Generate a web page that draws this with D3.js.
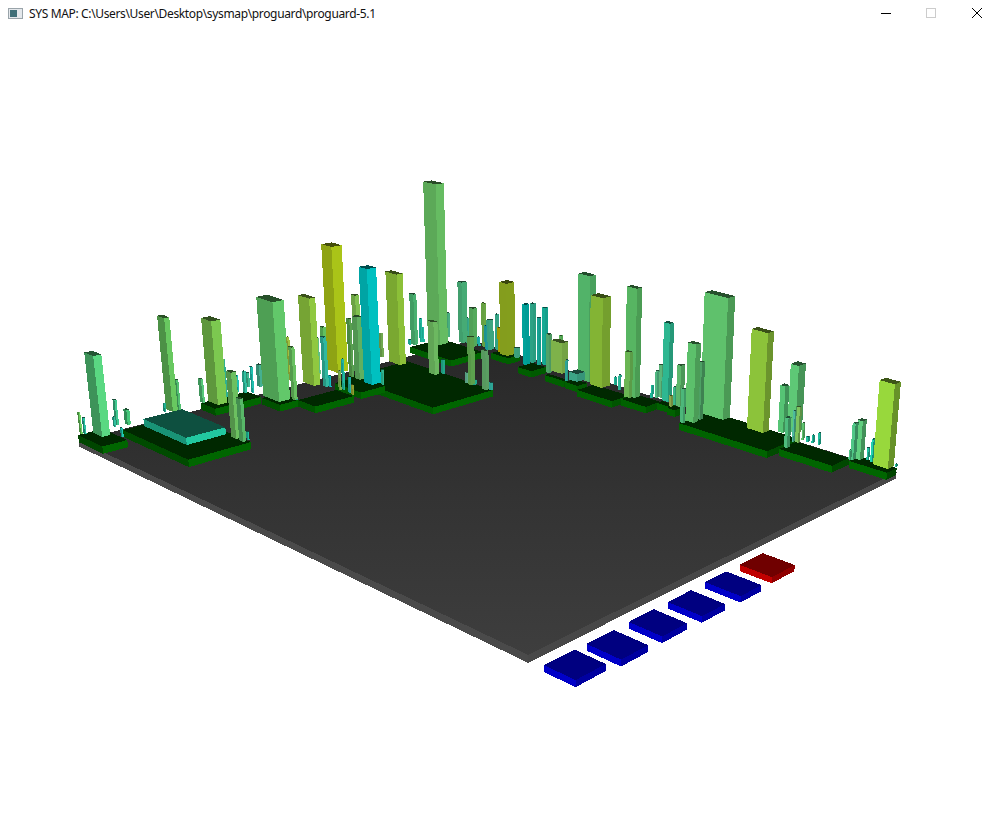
<!DOCTYPE html>
<html><head><meta charset="utf-8"><title>SYS MAP</title><script src="https://cdn.jsdelivr.net/npm/d3@7"></script>
<style>html,body{margin:0;background:#fff;overflow:hidden}svg{display:block}</style></head><body><svg id="c" width="997" height="827"></svg>
<script>
// Ground-plane coordinates of each tower's front corner, footprint and height, in map units
const towerU=[33,-1,3,-1,11,54,5,4,2,-5,23,-3,-4,181,200,197,152,-10,9,0,-13,-24,78,87,-8,89,48,66,-14,1,16,-38,74,51,111,53,124,
-8,96,100,120,132,71,-27,-35,-32,-34,5,142,148,-26,24,58,230,234,216,269,275,73,94,103,31,89,60,145,116,167,210,210,
235,227,275,295,153,331,347,362,402,481,474,407,432,502,536,513,508,568,555,557,638,626,636,664,752,790,776,823,814,
822,820,831,840,853,940,932,928,949,959,994,999];
const towerV=[26,7,12,80,94,52,71,196,211,185,283,269,323,196,196,209,113,411,377,366,359,393,382,412,484,414,496,510,581,548,588,
694,592,593,589,724,606,733,519,525,522,518,516,850,877,880,842,893,733,751,952,944,940,743,749,746,743,751,960,952,
965,953,946,956,949,957,955,932,955,964,954,928,945,1118,916,928,947,937,939,930,974,956,966,971,981,974,965,967,951,
907,891,932,967,964,1013,994,929,966,969,990,988,991,990,979,969,965,991,987,978,999];
const towerDU=[26.2,4.5,4.4,5.9,8.8,4.3,4.4,20.5,5.8,4.4,28.9,8.8,5.8,13.4,10.6,4,120,8.8,4.3,5.8,4.4,5.9,44.9,8.4,5.8,4.2,31.3,
8.5,8.8,5.8,28.8,11.8,14.1,8.5,22.1,31.3,4.1,5.8,4.2,4.2,4.1,4.1,4.2,11.8,4.4,4.4,4.4,35,16.4,5.5,4.4,11.6,11.4,7.9,
5.3,4,10.4,5.2,8.5,8.5,5.6,4.3,4.2,4.3,19.3,4.2,8.2,8,8.1,8,5.3,7.8,28.5,5.5,3.8,20.2,27.7,29.7,23.9,12,3.7,3.7,3.6,
14,7.1,4.7,9.2,4.6,4.6,17.8,6.7,4.5,50.7,33.9,16.7,10.5,6.1,3.1,6.1,3.1,4.1,3.1,3,9.7,5.8,2.9,2.9,3.8,28.3,2.8];
const towerDV=[16.1,3,3,4.2,6.3,3.1,3.1,11,4.5,3.3,20.8,4.6,4.7,11,6.6,3.3,84,7.4,3.6,4.8,3.6,4.9,26.7,7.4,5.1,3.7,15.4,7.8,8,7.9,
26.9,11.3,13.5,5.4,24.2,17.2,4.1,5.8,3.9,3.9,3.9,3.9,3.9,9.1,4.6,4.6,4.5,24.8,11.6,5.8,6.3,15.8,12.7,11.7,5.8,4.4,8.8,
5.9,6.4,12.8,6.4,4.8,4.8,4.8,25.5,4.8,9.6,12.7,9.6,9.7,6.4,9.6,19.3,6.9,4.8,25.7,19.4,25.9,16.3,9.7,4.9,4.9,5,13.4,
6.7,6.7,13.4,6.7,6.6,16.4,6.5,10,23.8,20.7,24.9,14,10.3,5.2,7,5.3,7.1,5.3,5.3,14.5,10.8,5.4,5.5,7.3,22,5.6];
const towerH=[89,24,18,28,17,10,11,108,35,10,98,28,45,74,48,9,8,27,32,26,20,17,118,63,53,16,107,61,54,46,157,80,78,73,142,116,19,
31,24,38,19,12,14,68,32,20,7,212,67,18,33,82,52,60,6,13,49,9,59,40,48,34,33,12,96,33,13,79,78,75,62,50,40,10,27,10,
134,113,135,57,10,19,16,97,41,34,51,22,14,94,41,70,146,118,80,56,35,37,42,20,6,9,14,45,42,11,14,26,96,3];
const towerColor=['#5ad882','#6dd060','#2ac0a0','#3fc890','#45c77a','#20c8b0','#30c0a0','#68c860','#50c070','#20b090','#7cc850','#55c878','#30b090','#6cc060','#58b868','#20c0a0','#22c8a0',
'#45b090','#20c0b0','#30c0a0','#20c0b0','#3cb890','#62c86a','#68c060','#a0c040','#20a890','#90c840','#30b8a0','#60c060','#60c080','#aac418','#80c050','#60b060','#58a050',
'#00c0c0','#8cc038','#30b890','#70a850','#7cb050','#20b8a0','#20b0a8','#90a030','#10c0c0','#48b070','#20b8a0','#20b8a0','#20b8a0','#66bc62','#6cb860','#20a888','#48b080',
'#48b078','#58b060','#60a850','#20b090','#60b090','#60a868','#30b0a0','#70b048','#40b088','#38b090','#38b090','#20a0a0','#20b8b0','#90ac20','#b0a800','#40b088',
'#00b0a8','#30b090','#18b8a0','#18b0a0','#58b070','#88c050','#60c060','#30b0a0','#40b090','#58c070','#8cc038','#5cc068','#70c058','#20c0a0','#30c0a0','#20c0a0',
'#30c098','#60c080','#55c088','#60c070','#40c090','#90b050','#60c870','#50c080','#50a868','#62c870','#90c83c','#60cc78','#58c878','#50c080','#50c0a0','#80c860','#60c870',
'#20c0a0','#20c0a0','#20c0a0','#60d080','#50c888','#50c888','#20c0a0','#20d0b0','#98d83c','#20c0a0'];
// Green district plates
const plateU0=[0,26,-5,41,91,45,59,-23,110,209,278,332,379,468,526,556,621,817,930];
const plateU1=[71,208,36,91,138,277,131,95,157,245,328,364,465,526,555,574,809,922,1002];
const plateV0=[0,73,266,372,417,585,540,831,938,908,911,908,887,912,949,940,885,913,959];
const plateV1=[50,206,374,417,515,754,605,929,977,955,923,939,941,960,967,963,990,973,995];
// Legend pads beside the map
const padU0=[1042,1043,1042,1042,1040,1041];
const padU1=[1092,1098,1096,1098,1099,1095];
const padV0=[-19,66,158,248,342,431];
const padV1=[42,124,215,304,396,494];
const padKind=['blue','blue','blue','blue','blue','red'];
const padFaces={blue:['#0000c8','#0000a0','#000080'],red:['#c00000','#900000','#700000']};
const titleText='SYS MAP: C:\\Users\\User\\Desktop\\sysmap\\proguard\\proguard-5.1';

const uScale=d3.scaleLinear().domain([0,1000]).range([0,1]);
const vScale=d3.scaleLinear().domain([0,1000]).range([0,1]);
const heightScale=d3.scaleLinear().domain([0,100]).range([0,98.5]);
// Projective camera: four map corners to the screen, verticals converging on a point far below
const A=[78,435],B=[528,648],C=[897,467],D=[472,336],VP=[554,4500];
const dx1=B[0]-C[0],dy1=B[1]-C[1],dx2=D[0]-C[0],dy2=D[1]-C[1],sx=A[0]-B[0]+C[0]-D[0],sy=A[1]-B[1]+C[1]-D[1],den=dx1*dy2-dx2*dy1;
const g=(sx*dy2-dx2*sy)/den,h=(dx1*sy-sx*dy1)/den,a=B[0]-A[0]+g*B[0],b=D[0]-A[0]+h*D[0],c=A[0],d=B[1]-A[1]+g*B[1],e=D[1]-A[1]+h*D[1],f=A[1];
function project(mu,mv,z){const u=uScale(mu),v=vScale(mv),X=a*u+b*v+c-z*VP[0]/VP[1],Y=d*u+e*v+f-z,W=g*u+h*v+1-z/VP[1];return[X/W,Y/W]}
const leftShade=d3.scaleLinear().domain([100,440,880]).range([.68,.9,1]);
const rightShade=d3.scaleLinear().domain([100,440,560,880]).range([1,1,.85,.68]);
const shade=(hex,k)=>{const c0=d3.rgb(hex);return d3.rgb(c0.r*k,c0.g*k,c0.b*k)+''};

const svg=d3.select('#c');
const grad=svg.append('defs').append('linearGradient').attr('id','gr').attr('x1',0).attr('x2',0).attr('y1',0).attr('y2',1);
grad.append('stop').attr('offset',0).attr('stop-color','#282828');grad.append('stop').attr('offset',1).attr('stop-color','#3e3e3e');
const path=d3.line();
const face=(pts,fill)=>svg.append('path').attr('d',path(pts)+'Z').attr('fill',fill).attr('shape-rendering','crispEdges');
function box(u0,u1,v0,v1,z0,z1,cl,cr,ct){
 face([project(u0,v0,z0),project(u1,v0,z0),project(u1,v0,z1),project(u0,v0,z1)],cl);
 face([project(u1,v0,z0),project(u1,v1,z0),project(u1,v1,z1),project(u1,v0,z1)],cr);
 face([project(u0,v0,z1),project(u1,v0,z1),project(u1,v1,z1),project(u0,v1,z1)],ct);
}
box(0,1000,0,1000,-13,-6,'#4a4a4a','#484848','url(#gr)');
plateU0.forEach((_,i)=>{const x=project(plateU1[i],plateV0[i],0)[0];box(plateU0[i],plateU1[i],plateV0[i],plateV1[i],-8,0,shade('#006600',leftShade(x)),shade('#006600',rightShade(x)),'#002800')});
padU0.forEach((_,i)=>{const k=padFaces[padKind[i]];box(padU0[i],padU1[i],padV0[i],padV1[i],-6,0,k[0],k[1],k[2])});
const order=d3.range(towerU.length).sort((p,q)=>(g*uScale(towerU[q])+h*vScale(towerV[q]))-(g*uScale(towerU[p])+h*vScale(towerV[p])));
order.forEach(i=>{
 const x=project(towerU[i],towerV[i],0)[0];
 box(towerU[i]-towerDU[i],towerU[i],towerV[i],towerV[i]+towerDV[i],0,heightScale(towerH[i]),shade(towerColor[i],leftShade(x)),shade(towerColor[i],rightShade(x)),shade(towerColor[i],.4));
});
// window title bar
const bar=svg.append('g');
bar.append('rect').attr('x',8.5).attr('y',8.5).attr('width',14).attr('height',10).attr('fill','#e4e8ec').attr('stroke','#9aa4aa');
bar.append('rect').attr('x',10).attr('y',10).attr('width',7).attr('height',7).attr('fill','#3f6f78');
bar.append('text').attr('x',29).attr('y',18).attr('font-family','Noto Sans').attr('font-size',12).attr('textLength',347).attr('fill','#111').text(titleText);
bar.append('line').attr('x1',881).attr('x2',891).attr('y1',13.5).attr('y2',13.5).attr('stroke','#000');
bar.append('rect').attr('x',926.5).attr('y',8.5).attr('width',9).attr('height',9).attr('fill','none').attr('stroke','#ccc');
bar.append('path').attr('d','M972,8L982,18M982,8L972,18').attr('stroke','#000').attr('fill','none');
</script></body></html>
